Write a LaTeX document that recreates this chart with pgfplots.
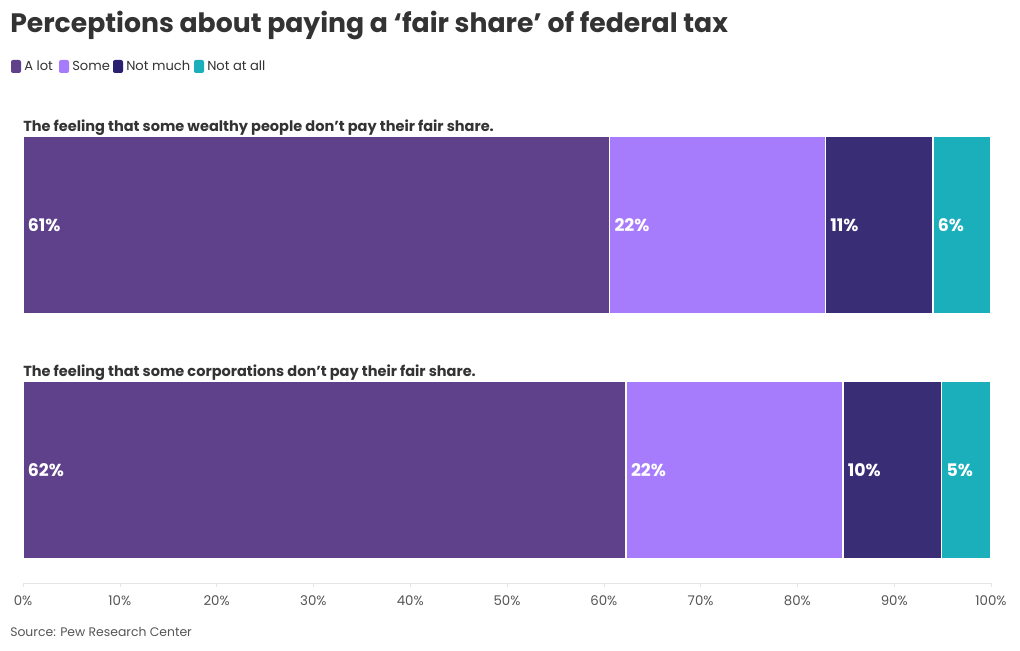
\documentclass[border=0pt]{standalone}
\usepackage{pgfplots}
\pgfplotsset{compat=1.18}
\usepackage{fontspec}
\setmainfont{Poppins}
\definecolor{alot}{HTML}{5E418A}
\definecolor{some}{HTML}{A77CFC}
\definecolor{notmuch}{HTML}{392D75}
\definecolor{notatall}{HTML}{1BAEBB}
\definecolor{legnotmuch}{HTML}{2B2070}
\definecolor{txt}{HTML}{333333}
\definecolor{ticktxt}{HTML}{555555}
\tikzset{lbl/.style={anchor=west, text=white, font=\fontsize{13}{15}\selectfont\bfseries, inner sep=0pt, xshift=3.5pt}}
\begin{document}
\begin{tikzpicture}
\useasboundingbox (0,0) rectangle (765pt,487.5pt);
\begin{axis}[
  at={(17.25pt,50.25pt)}, anchor=south west,
  scale only axis, width=726pt, height=347.25pt,
  xbar stacked, bar width=178,
  xmin=0, xmax=100, ymin=-583, ymax=-120,
  hide y axis,
  axis x line=bottom,
  x axis line style={-, draw=black!10},
  xtick={0,10,...,100},
  xticklabel={\pgfmathprintnumber{\tick}\%},
  /pgf/number format/assume math mode=true,
  xticklabel style={font=\fontsize{10}{12}\selectfont, text=ticktxt, yshift=-3pt},
  tick style={draw=black!10}, xtick align=outside, major tick length=3pt,
  clip=false,
]
\addplot[fill=alot, draw=white, line width=1.2pt] coordinates {(60.6,-225) (62.3,-470)};
\addplot[fill=some, draw=white, line width=1.2pt] coordinates {(22.3,-225) (22.4,-470)};
\addplot[fill=notmuch, draw=white, line width=1.2pt] coordinates {(11.1,-225) (10.2,-470)};
\addplot[fill=notatall, draw=white, line width=1.2pt] coordinates {(6.0,-225) (5.1,-470)};
\coordinate (a1) at (axis cs:0,-225);
\coordinate (a2) at (axis cs:60.6,-225);
\coordinate (a3) at (axis cs:82.9,-225);
\coordinate (a4) at (axis cs:94.0,-225);
\coordinate (b1) at (axis cs:0,-470);
\coordinate (b2) at (axis cs:62.3,-470);
\coordinate (b3) at (axis cs:84.7,-470);
\coordinate (b4) at (axis cs:94.9,-470);
\end{axis}
\node[lbl] at (a1) {61\%};
\node[lbl] at (a2) {22\%};
\node[lbl] at (a3) {11\%};
\node[lbl] at (a4) {6\%};
\node[lbl] at (b1) {62\%};
\node[lbl] at (b2) {22\%};
\node[lbl] at (b3) {10\%};
\node[lbl] at (b4) {5\%};
\begin{scope}[x=0.75pt, y=-0.75pt, shift={(0pt,487.5pt)}]
\node[anchor=base west, inner sep=0pt, text=txt, font=\fontsize{20}{24}\selectfont\bfseries] at (10,33) {Perceptions about paying a ‘fair share’ of federal tax};
\fill[alot, rounded corners=1.5pt] (11,60) rectangle (21,73);
\node[anchor=base west, inner sep=0pt, text=txt, font=\fontsize{9.8}{12}\selectfont] at (24,71) {A lot};
\fill[some, rounded corners=1.5pt] (59,60) rectangle (69,73);
\node[anchor=base west, inner sep=0pt, text=txt, font=\fontsize{9.8}{12}\selectfont] at (72,71) {Some};
\fill[legnotmuch, rounded corners=1.5pt] (113,60) rectangle (123,73);
\node[anchor=base west, inner sep=0pt, text=txt, font=\fontsize{9.8}{12}\selectfont] at (126,71) {Not much};
\fill[notatall, rounded corners=1.5pt] (194,60) rectangle (204,73);
\node[anchor=base west, inner sep=0pt, text=txt, font=\fontsize{9.8}{12}\selectfont] at (207,71) {Not at all};
\node[anchor=base west, inner sep=0pt, text=txt, font=\fontsize{10.9}{13}\selectfont\bfseries] at (23,132) {The feeling that some wealthy people don’t pay their fair share.};
\node[anchor=base west, inner sep=0pt, text=txt, font=\fontsize{10.9}{13}\selectfont\bfseries] at (23,377) {The feeling that some corporations don’t pay their fair share.};
\node[anchor=base west, inner sep=0pt, text=ticktxt, font=\fontsize{9.3}{11}\selectfont] at (10,636) {Source: Pew Research Center};
\end{scope}
\end{tikzpicture}
\end{document}
